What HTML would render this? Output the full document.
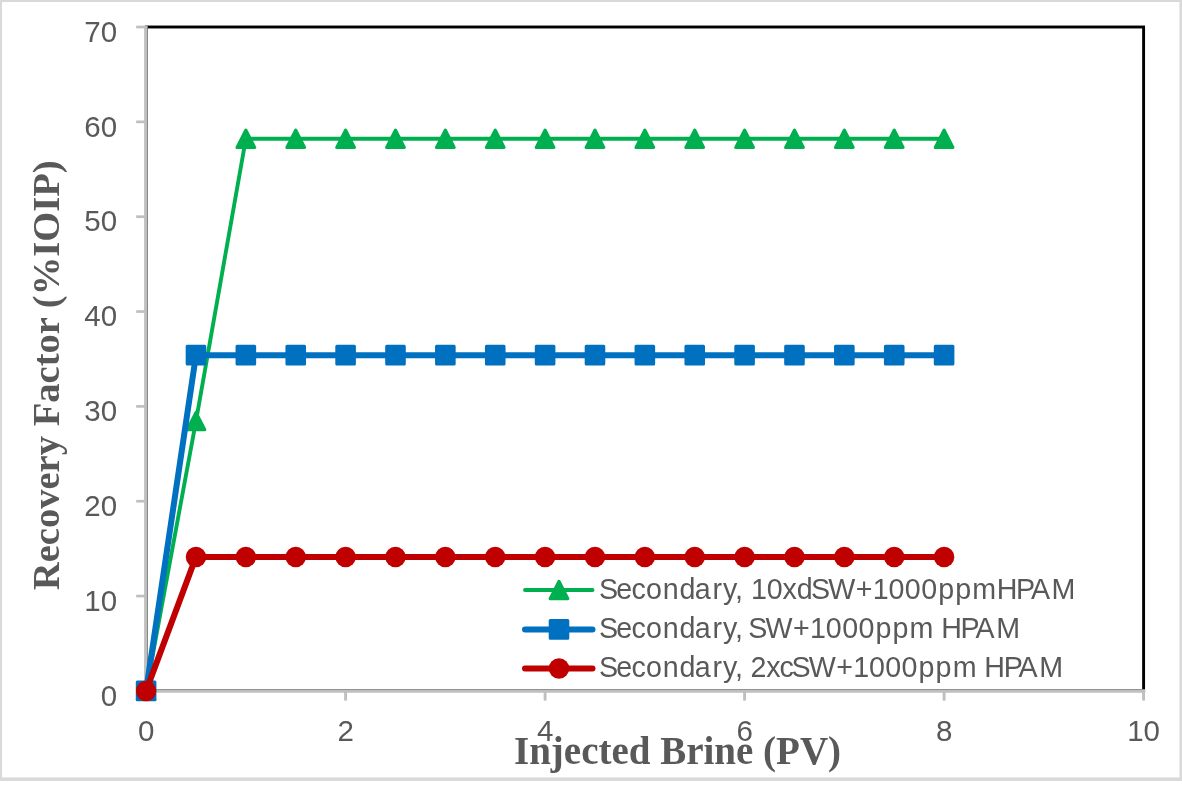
<!DOCTYPE html>
<html lang="en">
<head>
<meta charset="utf-8">
<title>Recovery Factor vs Injected Brine</title>
<style>
html,body{margin:0;padding:0;background:#ffffff;}
body{width:1182px;height:799px;overflow:hidden;}
svg{display:block;}
</style>
</head>
<body>
<svg width="1182" height="799" viewBox="0 0 1182 799">
<rect x="0" y="0" width="1182" height="799" fill="#ffffff"/>
<rect x="0.3" y="0.3" width="1180.9" height="778.9" fill="none" stroke="#d9d9d9" stroke-width="3.5"/>
<rect x="146.4" y="27" width="997.20" height="663.50" fill="none" stroke="#000000" stroke-width="2.9"/>
<g stroke="#bfbfbf" fill="none">
<path d="M145.9 25.65 V692.65" stroke-width="3.5"/>
<path d="M144.35 690.9 H1145.2" stroke-width="3.5"/>
<path d="M136.2 690.9 H146.1" stroke-width="2.7"/>
<path d="M136.2 596.06 H146.1" stroke-width="2.7"/>
<path d="M136.2 501.22 H146.1" stroke-width="2.7"/>
<path d="M136.2 406.38 H146.1" stroke-width="2.7"/>
<path d="M136.2 311.54 H146.1" stroke-width="2.7"/>
<path d="M136.2 216.7 H146.1" stroke-width="2.7"/>
<path d="M136.2 121.86 H146.1" stroke-width="2.7"/>
<path d="M136.2 27.02 H146.1" stroke-width="2.7"/>
<path d="M146.1 690.9 V700.6" stroke-width="2.9"/>
<path d="M345.6 690.9 V700.6" stroke-width="2.9"/>
<path d="M545.1 690.9 V700.6" stroke-width="2.9"/>
<path d="M744.6 690.9 V700.6" stroke-width="2.9"/>
<path d="M944.1 690.9 V700.6" stroke-width="2.9"/>
<path d="M1143.6 690.9 V700.6" stroke-width="2.9"/>
</g>
<polyline points="146.1,690.9 195.97,421.08 245.85,138.74 295.73,138.74 345.6,138.74 395.48,138.74 445.35,138.74 495.23,138.74 545.1,138.74 594.98,138.74 644.85,138.74 694.73,138.74 744.6,138.74 794.48,138.74 844.35,138.74 894.23,138.74 944.1,138.74" fill="none" stroke="#00b050" stroke-width="3.9" stroke-linejoin="round" stroke-linecap="round"/>
<g fill="#00b050" stroke="#00b050" stroke-width="3" stroke-linejoin="round">
<path d="M146.10 682.20 L155.00 699.60 H137.20 Z"/>
<path d="M195.97 412.38 L204.87 429.78 H187.07 Z"/>
<path d="M245.85 130.04 L254.75 147.44 H236.95 Z"/>
<path d="M295.73 130.04 L304.63 147.44 H286.83 Z"/>
<path d="M345.60 130.04 L354.50 147.44 H336.70 Z"/>
<path d="M395.48 130.04 L404.38 147.44 H386.58 Z"/>
<path d="M445.35 130.04 L454.25 147.44 H436.45 Z"/>
<path d="M495.23 130.04 L504.13 147.44 H486.33 Z"/>
<path d="M545.10 130.04 L554.00 147.44 H536.20 Z"/>
<path d="M594.98 130.04 L603.88 147.44 H586.08 Z"/>
<path d="M644.85 130.04 L653.75 147.44 H635.95 Z"/>
<path d="M694.73 130.04 L703.63 147.44 H685.83 Z"/>
<path d="M744.60 130.04 L753.50 147.44 H735.70 Z"/>
<path d="M794.48 130.04 L803.38 147.44 H785.58 Z"/>
<path d="M844.35 130.04 L853.25 147.44 H835.45 Z"/>
<path d="M894.23 130.04 L903.13 147.44 H885.33 Z"/>
<path d="M944.10 130.04 L953.00 147.44 H935.20 Z"/>
</g>
<polyline points="146.1,690.9 195.97,355.17 245.85,355.17 295.73,355.17 345.6,355.17 395.48,355.17 445.35,355.17 495.23,355.17 545.1,355.17 594.98,355.17 644.85,355.17 694.73,355.17 744.6,355.17 794.48,355.17 844.35,355.17 894.23,355.17 944.1,355.17" fill="none" stroke="#0070c0" stroke-width="6" stroke-linejoin="round" stroke-linecap="round"/>
<g fill="#0070c0" stroke="#0070c0" stroke-width="3" stroke-linejoin="round">
<rect x="137.30" y="682.10" width="17.6" height="17.6"/>
<rect x="187.17" y="346.37" width="17.6" height="17.6"/>
<rect x="237.05" y="346.37" width="17.6" height="17.6"/>
<rect x="286.93" y="346.37" width="17.6" height="17.6"/>
<rect x="336.80" y="346.37" width="17.6" height="17.6"/>
<rect x="386.68" y="346.37" width="17.6" height="17.6"/>
<rect x="436.55" y="346.37" width="17.6" height="17.6"/>
<rect x="486.43" y="346.37" width="17.6" height="17.6"/>
<rect x="536.30" y="346.37" width="17.6" height="17.6"/>
<rect x="586.18" y="346.37" width="17.6" height="17.6"/>
<rect x="636.05" y="346.37" width="17.6" height="17.6"/>
<rect x="685.93" y="346.37" width="17.6" height="17.6"/>
<rect x="735.80" y="346.37" width="17.6" height="17.6"/>
<rect x="785.68" y="346.37" width="17.6" height="17.6"/>
<rect x="835.55" y="346.37" width="17.6" height="17.6"/>
<rect x="885.43" y="346.37" width="17.6" height="17.6"/>
<rect x="935.30" y="346.37" width="17.6" height="17.6"/>
</g>
<polyline points="146.1,690.9 195.97,556.89 245.85,556.89 295.73,556.89 345.6,556.89 395.48,556.89 445.35,556.89 495.23,556.89 545.1,556.89 594.98,556.89 644.85,556.89 694.73,556.89 744.6,556.89 794.48,556.89 844.35,556.89 894.23,556.89 944.1,556.89" fill="none" stroke="#c00000" stroke-width="6" stroke-linejoin="round" stroke-linecap="round"/>
<g fill="#c00000">
<circle cx="146.10" cy="690.90" r="10.25"/>
<circle cx="195.97" cy="556.89" r="10.25"/>
<circle cx="245.85" cy="556.89" r="10.25"/>
<circle cx="295.73" cy="556.89" r="10.25"/>
<circle cx="345.60" cy="556.89" r="10.25"/>
<circle cx="395.48" cy="556.89" r="10.25"/>
<circle cx="445.35" cy="556.89" r="10.25"/>
<circle cx="495.23" cy="556.89" r="10.25"/>
<circle cx="545.10" cy="556.89" r="10.25"/>
<circle cx="594.98" cy="556.89" r="10.25"/>
<circle cx="644.85" cy="556.89" r="10.25"/>
<circle cx="694.73" cy="556.89" r="10.25"/>
<circle cx="744.60" cy="556.89" r="10.25"/>
<circle cx="794.48" cy="556.89" r="10.25"/>
<circle cx="844.35" cy="556.89" r="10.25"/>
<circle cx="894.23" cy="556.89" r="10.25"/>
<circle cx="944.10" cy="556.89" r="10.25"/>
</g>
<path d="M525.0 590.0 H592.5" stroke="#00b050" stroke-width="3.9" stroke-linecap="round" fill="none"/>
<g fill="#00b050" stroke="#00b050" stroke-width="3" stroke-linejoin="round"><path d="M559.00 581.30 L567.90 598.70 H550.10 Z"/></g>
<path d="M525.0 629.4 H592.5" stroke="#0070c0" stroke-width="6" stroke-linecap="round" fill="none"/>
<g fill="#0070c0" stroke="#0070c0" stroke-width="3" stroke-linejoin="round"><rect x="550.20" y="620.60" width="17.6" height="17.6"/></g>
<path d="M525.0 668.4 H592.5" stroke="#c00000" stroke-width="6" stroke-linecap="round" fill="none"/>
<g fill="#c00000"><circle cx="559.00" cy="668.40" r="10.25"/></g>
<g font-family="'Liberation Sans', sans-serif" font-size="30" fill="#595959">
<text x="117.2" y="705.60" font-size="29.5" text-anchor="end">0</text>
<text x="117.2" y="610.76" font-size="29.5" text-anchor="end">10</text>
<text x="117.2" y="515.92" font-size="29.5" text-anchor="end">20</text>
<text x="117.2" y="421.08" font-size="29.5" text-anchor="end">30</text>
<text x="117.2" y="326.24" font-size="29.5" text-anchor="end">40</text>
<text x="117.2" y="231.40" font-size="29.5" text-anchor="end">50</text>
<text x="117.2" y="136.56" font-size="29.5" text-anchor="end">60</text>
<text x="117.2" y="41.72" font-size="29.5" text-anchor="end">70</text>
<text x="146.1" y="740.5" font-size="29.5" text-anchor="middle">0</text>
<text x="345.6" y="740.5" font-size="29.5" text-anchor="middle">2</text>
<text x="545.1" y="740.5" font-size="29.5" text-anchor="middle">4</text>
<text x="744.6" y="740.5" font-size="29.5" text-anchor="middle">6</text>
<text x="944.1" y="740.5" font-size="29.5" text-anchor="middle">8</text>
<text x="1143.6" y="740.5" font-size="29.5" text-anchor="middle">10</text>
<text transform="translate(601.2 599.4) scale(0.955 1)" x="-2.21 15.69 31.86 46.93 64.45 82.09 98.06 116.44 127.5 140.2 148.25 156.76 173.27 189.96 204.67 219.7 237.84 266.61 284.41 300.92 317.99 335.06 352.94 370.64 388.55 414.17 434.34 449.98 471.62">Secondary, 10xdSW+1000ppmHPAM</text>
<text transform="translate(601.2 638.1) scale(0.955 1)" x="-2.21 15.69 31.86 46.93 64.45 82.09 98.06 116.44 127.5 140.2 148.25 154.01 172.15 200.92 218.72 235.23 252.3 269.37 287.25 304.95 322.86 348.38 356.1 376.26 391.91 413.55">Secondary, SW+1000ppm HPAM</text>
<text transform="translate(601.2 677.2) scale(0.955 1)" x="-2.21 15.69 31.86 46.93 64.45 82.09 98.06 116.44 127.5 140.2 148.25 156.21 172.9 186.75 199.15 217.29 246.06 263.86 280.37 297.44 314.5 332.39 350.08 368.0 393.52 401.23 421.4 437.04 458.68">Secondary, 2xcSW+1000ppm HPAM</text>
</g>
<g font-family="'Liberation Serif', serif" font-weight="bold" fill="#595959">
<text x="514" y="764.2" font-size="39">Injected Brine (PV)</text>
<text transform="translate(58.6 590.2) rotate(-90)" font-size="38.6">Recovery Factor (%IOIP)</text>
</g>
</svg>
</body>
</html>
